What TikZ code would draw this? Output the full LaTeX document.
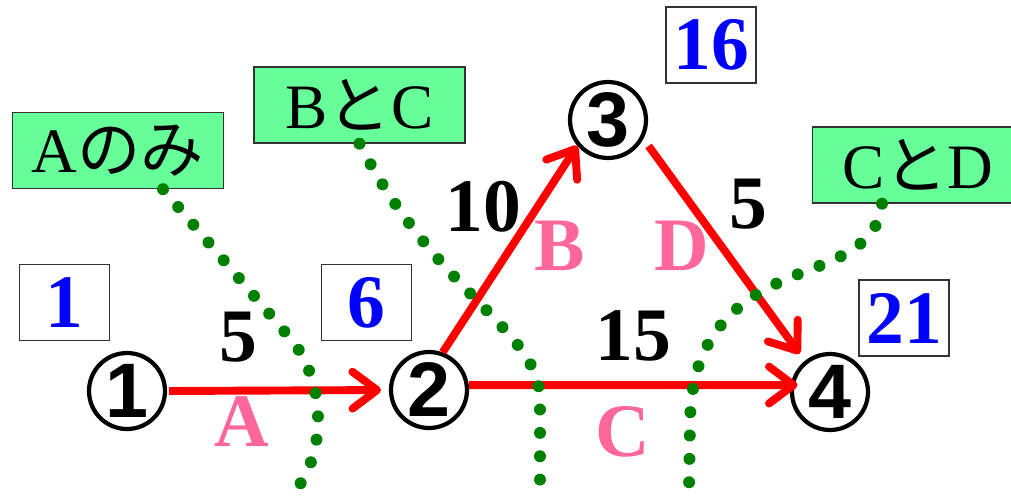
\documentclass[tikz,border=0pt]{standalone}
\usepackage{fontspec}
\setmainfont{Liberation Serif}
\newfontfamily\jpfont{Noto Sans CJK JP}
\newfontfamily\numfont{Liberation Sans}
\usetikzlibrary{arrows.meta,calc}

\definecolor{boxgreen}{RGB}{102,255,153}
\definecolor{lblpink}{RGB}{255,102,153}
\definecolor{dotgreen}{RGB}{0,128,0}

\begin{document}
\begin{tikzpicture}[
		x=0.02cm,y=-0.02cm,
		>={Straight Barb[length=14pt,width=21pt,line cap=round,line join=round]},
		event/.style={circle,draw,line width=2.4pt,minimum size=1.52cm,inner sep=0pt,
			font=\numfont\bfseries\fontsize{44}{44}\selectfont},
		flow/.style={->,red,line width=4.5pt},
		timebox/.style={draw=black!80,line width=0.8pt,fill=white,minimum width=1.8cm,
			minimum height=1.52cm,inner sep=0pt,text=blue,
			font=\bfseries\fontsize{43}{43}\selectfont},
		pathbox/.style={draw=black!80,line width=0.8pt,fill=boxgreen,minimum width=4.22cm,
			minimum height=1.52cm,inner sep=0pt,font=\fontsize{36}{36}\selectfont},
		weight/.style={inner sep=0pt,font=\bfseries\fontsize{43}{43}\selectfont},
		actname/.style={inner sep=0pt,text=lblpink,font=\bfseries\fontsize{43}{43}\selectfont},
		dotline/.style={dotgreen,line width=6.8pt,line cap=round,dash pattern=on 0pt off 13.3pt}
		]
		\useasboundingbox (0,0) rectangle (1011,498);
		
		% events
		\node[event] (n1) at (127,391) {1};
		\node[event] (n2) at (429,390) {2};
		\node[event] (n3) at (608,120) {3};
		\node[event] (n4) at (830,392) {4};
		
		% earliest times
		\node[timebox] (t1) at (64.5,302.5) {1};
		\node[timebox] (t6) at (366.5,302.5) {6};
		\node[timebox] (t16) at (711,45) {16};
		\node[timebox] (t21) at (904,318) {21};
		
		% activities
		\draw[flow,shorten <=1pt,shorten >=4.5pt] (n1.east) -- (n2.west);
		\draw[flow] (n2.70) -- (n3.220);
		\draw[flow,shorten <=5pt,shorten >=5pt] (n3.-28) -- (n4.129);
		\draw[flow,shorten >=-4pt] (n2.7) -- (n4.170);
		
		\node[weight] (w12) at (238,337) {5};
		\node[weight] (w23) at (483,207) {10};
		\node[weight] (w34) at (748,204) {5};
		\node[weight] (w24) at (633,336) {15};
		
		\node[actname] (aA) at (242,422) {A};
		\node[actname] (aB) at (560,246) {B};
		\node[actname] (aD) at (682,246) {D};
		\node[actname] (aC) at (623,432) {C};
		
		% cuts
		\node[pathbox] (onlyA) at (118,150.5) {A{\jpfont のみ}};
		\node[pathbox] (bandc) at (359.5,105) {B{\jpfont と}C};
		\node[pathbox] (candd) at (918,165) {C{\jpfont と}D};
		
		\coordinate (e1) at (296,490);
		\coordinate (e2) at (540,490);
		\coordinate (e3) at (689,490);
		
		\draw[dotline] ($(onlyA.south)+(45,0)$) -- (290,338)
			.. controls (322,375) and (330,445) .. (e1);
		\draw[dotline] (bandc.south) .. controls (437,295) and (540,330) .. (540,400) -- (e2);
		\draw[dotline] ($(candd.south)+(-36,0)$) .. controls (878,245) and (840,258) .. (796,275)
			.. controls (720,305) and (692,350) .. (690,420) -- (e3);
		
	\end{tikzpicture}
\end{document}
